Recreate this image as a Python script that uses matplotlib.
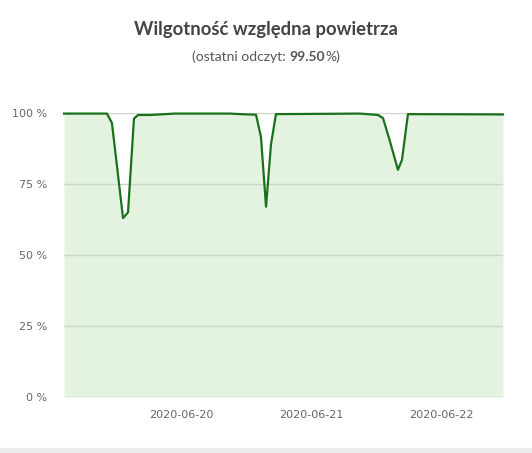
import matplotlib
matplotlib.use('Agg')
import matplotlib.pyplot as plt
import matplotlib.dates as mdates
import pandas as pd

# odczyty wilgotnosci (czas, %)
times = ['2020-06-19 02:24', '2020-06-19 10:20', '2020-06-19 11:15', '2020-06-19 13:18',
         '2020-06-19 14:13', '2020-06-19 15:19', '2020-06-19 16:04', '2020-06-19 18:17',
         '2020-06-19 22:53', '2020-06-20 09:03', '2020-06-20 10:54', '2020-06-20 13:51',
         '2020-06-20 14:46', '2020-06-20 15:42', '2020-06-20 16:37', '2020-06-20 17:32',
         '2020-06-21 09:02', '2020-06-21 12:22', '2020-06-21 13:18', '2020-06-21 14:35',
         '2020-06-21 16:03', '2020-06-21 16:48', '2020-06-21 17:54', '2020-06-22 11:27']
humidity = [99.8, 99.8, 96.5, 63.0,
            65.0, 98.0, 99.3, 99.3,
            99.8, 99.8, 99.6, 99.4,
            91.5, 67.0, 89.0, 99.6,
            99.8, 99.3, 98.2, 90.0,
            80.0, 83.5, 99.6, 99.5]
y_ticks = [0, 25, 50, 75, 100]
x_ticks = ['2020-06-20', '2020-06-21', '2020-06-22']
title = 'Wilgotność względna powietrza'
last_value = '99.50'

t = pd.to_datetime(times)

fig = plt.figure(figsize=(5.32, 4.53), dpi=100)
fig.patch.set_facecolor('white')
ax = fig.add_axes([64 / 532, 1 - 397 / 453, (503 - 64) / 532, (397 - 113) / 453])

ax.fill_between(t, humidity, 0, color='#e3f3e0', lw=0, zorder=1)
ax.plot(t, humidity, color='#1b701b', lw=1.6, zorder=3, clip_on=False)

for v in y_ticks:
    ax.axhline(v, color='#cdd6ca', lw=1, zorder=2)

ax.set_xlim(t[0], t[-1])
ax.set_ylim(0, 100)
ax.set_yticks(y_ticks)
ax.set_yticklabels([str(v) + ' %' for v in y_ticks])
ax.set_xticks(pd.to_datetime(x_ticks))
ax.xaxis.set_major_formatter(mdates.DateFormatter('%Y-%m-%d'))
ax.tick_params(length=0, labelsize=8, colors='#666666')
ax.tick_params(axis='y', pad=12)
ax.tick_params(axis='x', pad=9)
for s in ax.spines.values():
    s.set_visible(False)
ax.set_facecolor('white')

fig.text(0.5, 1 - 30 / 453, title, ha='center', va='center', fontsize=13.3,
         fontweight='bold', color='#444444', family='Lato')

# podtytul z pogrubiona wartoscia
r = fig.canvas.get_renderer()
parts = [('(ostatni odczyt: ', 'normal'), (last_value, 'bold'), ('%)', 'normal')]
objs = []
for s, w in parts:
    objs.append(fig.text(0, 1 - 57 / 453, s, ha='left', va='center', fontsize=10,
                         fontweight=w, color='#555555', family='Lato'))
widths = [o.get_window_extent(r).width for o in objs]
x = (fig.bbox.width - sum(widths)) / 2
for o, w in zip(objs, widths):
    o.set_x(x / fig.bbox.width)
    x += w

fig.patches.append(plt.Rectangle((0, 0), 1, 5 / 453, transform=fig.transFigure,
                                 color='#ececec', zorder=0))

fig.savefig('out.png', dpi=100)
